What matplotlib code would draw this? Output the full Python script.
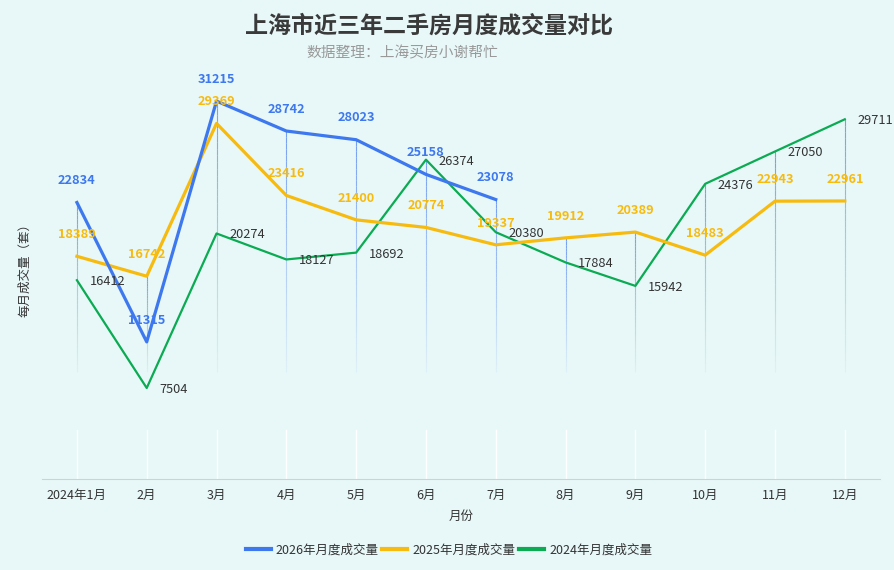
import numpy as np
import matplotlib
matplotlib.use('Agg')
import matplotlib.pyplot as plt
from matplotlib.collections import LineCollection
from matplotlib.lines import Line2D

plt.rcParams['font.family'] = ['Noto Sans CJK SC', 'DejaVu Sans']

months = ['2024年1月', '2月', '3月', '4月', '5月', '6月', '7月', '8月', '9月', '10月', '11月', '12月']
v2026 = [22834, 11315, 31215, 28742, 28023, 25158, 23078]
v2025 = [18389, 16742, 29369, 23416, 21400, 20774, 19337, 19912, 20389, 18483, 22943, 22961]
v2024 = [16412, 7504, 20274, 18127, 18692, 26374, 20380, 17884, 15942, 24376, 27050, 29711]

c26 = '#3d78ef'
c25 = '#f7bb10'
c24 = '#0aab52'
bg = '#e8f8f8'

fig = plt.figure(figsize=(8.94, 5.70), dpi=100, facecolor=bg)
ax = fig.add_axes([0.047, 0.16, 0.937, 0.743], facecolor=bg)

x = np.arange(len(months))
ax.set_xlim(-0.5, len(months) - 0.5)
ax.set_ylim(0, 35000)

# white grid stubs near the axis
for xi in x:
    ax.plot([xi, xi], [0, 4000], color='white', lw=1, zorder=1)

# fading drop lines from the top value of each month
tops = []
for i in range(len(months)):
    vals = [v2025[i], v2024[i]] + ([v2026[i]] if i < len(v2026) else [])
    tops.append(max(vals))
segs, cols = [], []
n = 40
for xi, top in zip(x, tops):
    ys = np.linspace(top, 8800, n + 1)
    for k in range(n):
        segs.append([(xi, ys[k]), (xi, ys[k + 1])])
        a = 0.7 * (1 - k / n) + 0.04
        cols.append((0.30, 0.50, 0.93, a))
ax.add_collection(LineCollection(segs, colors=cols, linewidths=0.8, zorder=2))

ax.plot(x, v2024, color=c24, lw=1.6, zorder=3)
ax.plot(x, v2025, color=c25, lw=2.3, zorder=4)
ax.plot(x[:len(v2026)], v2026, color=c26, lw=2.3, zorder=5)

for xi, v in zip(x, v2024):
    ax.annotate(str(v), (xi, v), xytext=(9, -1), textcoords='offset points',
                ha='left', va='center', fontsize=9.2, color='#333333', zorder=6)
for xi, v in zip(x, v2025):
    ax.annotate(str(v), (xi, v), xytext=(0, 11), textcoords='offset points',
                ha='center', va='bottom', fontsize=9.2, fontweight='bold', color=c25, zorder=7)
for xi, v in zip(x, v2026):
    ax.annotate(str(v), (xi, v), xytext=(0, 11), textcoords='offset points',
                ha='center', va='bottom', fontsize=9.2, fontweight='bold', color=c26, zorder=8)

for s in ['top', 'right', 'left']:
    ax.spines[s].set_visible(False)
ax.spines['bottom'].set_color('#c8d4dc')
ax.set_yticks([])
ax.set_xticks(x)
ax.set_xticklabels(months, fontsize=9, color='#333333')
ax.tick_params(axis='x', length=0, pad=7)
ax.set_xlabel('月份', fontsize=9, color='#333333', labelpad=6)
ax.set_ylabel('每月成交量（套）', fontsize=9, color='#333333', labelpad=8)

fig.text(0.48, 0.955, '上海市近三年二手房月度成交量对比', ha='center', va='center',
         fontsize=16.6, fontweight='bold', color='#3a3a3a')
fig.text(0.45, 0.907, '数据整理：上海买房小谢帮忙', ha='center', va='center',
         fontsize=10.6, color='#999999')

handles = [Line2D([], [], color=c26, lw=3), Line2D([], [], color=c25, lw=3),
           Line2D([], [], color=c24, lw=3)]
fig.legend(handles, ['2026年月度成交量', '2025年月度成交量', '2024年月度成交量'],
           loc='center', bbox_to_anchor=(0.502, 0.035), ncol=3, frameon=False,
           fontsize=9, handlelength=2.0, handletextpad=0.4, columnspacing=0.3,
           labelcolor='#333333')

fig.savefig('out.png', dpi=100, facecolor=bg)
